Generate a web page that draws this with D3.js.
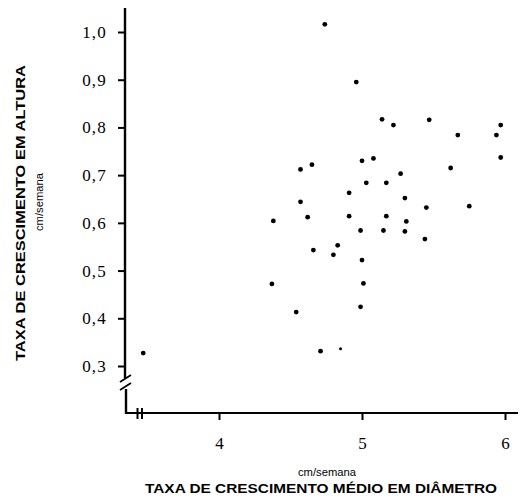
<!DOCTYPE html>
<html>
<head>
<meta charset="utf-8">
<script src="https://d3js.org/d3.v7.min.js"></script>
<style>
  body { margin: 0; background: #fff; }
  svg { display: block; }
</style>
</head>
<body>
<svg width="522" height="499"></svg>
<script>
// diameter growth (cm/semana) vs height growth (cm/semana)
var diametro = [4.74, 4.96, 5.14, 5.22, 5.47, 5.67, 5.97, 5.94, 4.57, 4.65,
                5.00, 5.08, 5.03, 5.17, 4.91, 4.57, 4.38, 4.62, 4.91, 5.17,
                4.99, 5.15, 4.66, 4.83, 4.80, 5.00, 5.97, 5.62, 5.27, 5.30,
                5.45, 5.75, 5.31, 5.30, 5.44, 4.37, 5.01, 4.54, 4.99, 4.71,
                4.85, 3.47];
var altura = [1.016, 0.895, 0.817, 0.805, 0.816, 0.784, 0.805, 0.784, 0.712, 0.722,
              0.730, 0.735, 0.684, 0.684, 0.663, 0.644, 0.604, 0.612, 0.614, 0.614,
              0.584, 0.584, 0.543, 0.553, 0.533, 0.522, 0.737, 0.715, 0.703, 0.652,
              0.632, 0.635, 0.603, 0.582, 0.566, 0.472, 0.473, 0.413, 0.424, 0.331,
              0.336, 0.327];
var xTicks = [4, 5, 6];
var yTicks = [0.3, 0.4, 0.5, 0.6, 0.7, 0.8, 0.9, 1.0];

var svg = d3.select("svg");
var x = d3.scaleLinear().domain([4, 6]).range([219, 505]);
var y = d3.scaleLinear().domain([0.3, 1.0]).range([366, 32]);

var axisX = 125, axisY = 413;
var comma = function(d) { return d3.format(".1f")(d).replace(".", ","); };

// y axis ticks + labels
var gy = svg.append("g")
  .attr("transform", "translate(" + axisX + ",0)")
  .call(d3.axisLeft(y).tickValues(yTicks).tickSize(7).tickPadding(11).tickFormat(comma));
gy.select(".domain").remove();
gy.selectAll("line").attr("stroke", "#000").attr("stroke-width", 2);
gy.selectAll("text")
  .attr("font-family", "Liberation Serif, serif")
  .attr("font-size", 17)
  .attr("letter-spacing", 1.2)
  .attr("fill", "#000");

// x axis ticks + labels
var gx = svg.append("g")
  .attr("transform", "translate(0," + axisY + ")")
  .call(d3.axisBottom(x).tickValues(xTicks).tickSize(7).tickPadding(17).tickFormat(d3.format("d")));
gx.select(".domain").remove();
gx.selectAll("line").attr("stroke", "#000").attr("stroke-width", 2);
gx.selectAll("text")
  .attr("font-family", "Liberation Serif, serif")
  .attr("font-size", 17)
  .attr("fill", "#000");

// axis lines with break marks
var ax = svg.append("g").attr("stroke", "#000").attr("fill", "none");
ax.append("line").attr("x1", axisX).attr("y1", 8).attr("x2", axisX).attr("y2", 378).attr("stroke-width", 2.4);
ax.append("line").attr("x1", axisX + 1).attr("y1", 389).attr("x2", axisX + 1).attr("y2", axisY + 1).attr("stroke-width", 2.4);
ax.append("line").attr("x1", 120).attr("y1", 382).attr("x2", 131).attr("y2", 375).attr("stroke-width", 1.8);
ax.append("line").attr("x1", 120).attr("y1", 390).attr("x2", 131).attr("y2", 383).attr("stroke-width", 1.8);
ax.append("line").attr("x1", axisX).attr("y1", axisY).attr("x2", 518).attr("y2", axisY).attr("stroke-width", 2.2);
ax.append("line").attr("x1", 137.5).attr("y1", 408).attr("x2", 137.5).attr("y2", 419).attr("stroke-width", 2);
ax.append("line").attr("x1", 142).attr("y1", 408).attr("x2", 142).attr("y2", 419).attr("stroke-width", 2);

// points
svg.append("g").selectAll("circle")
  .data(diametro.map(function(d, i) { return [d, altura[i]]; }))
  .join("circle")
  .attr("cx", function(d) { return x(d[0]); })
  .attr("cy", function(d) { return y(d[1]); })
  .attr("r", function(d, i) { return i === 40 ? 1.5 : 2.4; })
  .attr("fill", "#000");

// titles
svg.append("text")
  .attr("transform", "translate(25,213) rotate(-90)")
  .attr("text-anchor", "middle")
  .attr("font-family", "Liberation Sans, Arial, sans-serif")
  .attr("font-weight", "bold")
  .attr("font-size", 12)
  .attr("textLength", 296)
  .attr("lengthAdjust", "spacingAndGlyphs")
  .attr("fill", "#000")
  .text("TAXA DE CRESCIMENTO EM ALTURA");
svg.append("text")
  .attr("transform", "translate(43,202) rotate(-90)")
  .attr("text-anchor", "middle")
  .attr("font-family", "Liberation Sans, Arial, sans-serif")
  .attr("font-size", 10.5)
  .attr("textLength", 58)
  .attr("lengthAdjust", "spacingAndGlyphs")
  .attr("fill", "#000")
  .text("cm/semana");

svg.append("text")
  .attr("x", 327).attr("y", 476)
  .attr("text-anchor", "middle")
  .attr("font-family", "Liberation Sans, Arial, sans-serif")
  .attr("font-size", 10.5)
  .attr("textLength", 58)
  .attr("lengthAdjust", "spacingAndGlyphs")
  .attr("fill", "#000")
  .text("cm/semana");
svg.append("text")
  .attr("x", 321).attr("y", 493)
  .attr("text-anchor", "middle")
  .attr("font-family", "Liberation Sans, Arial, sans-serif")
  .attr("font-weight", "bold")
  .attr("font-size", 12)
  .attr("textLength", 352)
  .attr("lengthAdjust", "spacingAndGlyphs")
  .attr("fill", "#000")
  .text("TAXA DE CRESCIMENTO MÉDIO EM DIÂMETRO");
</script>
</body>
</html>
